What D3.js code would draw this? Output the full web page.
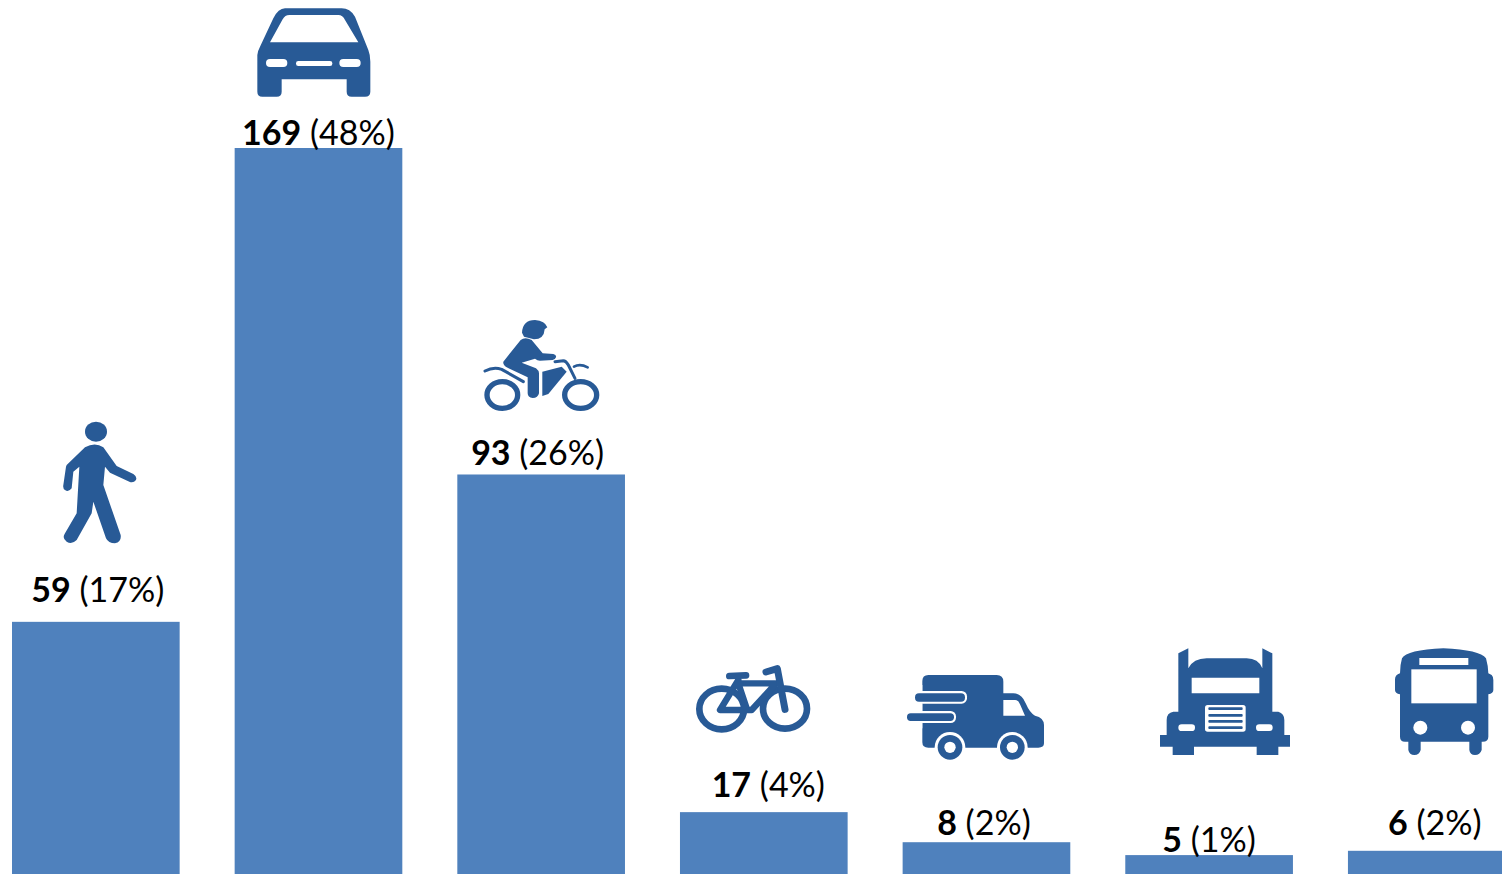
<!DOCTYPE html>
<html><head><meta charset="utf-8">
<script src="https://cdn.jsdelivr.net/npm/d3@7"></script>
<style>html,body{margin:0;padding:0;background:#fff;overflow:hidden}svg{display:block}</style>
</head><body><div id="chart"></div>
<script>
const modes = ["Pedestrian","Car","Motorcycle","Bicycle","Van","Truck","Bus"];
const counts = [59,169,93,17,8,5,6];
const shares = [17,48,26,4,2,1,2];
// Bar lengths as drawn in the picture (small bars are drawn a little shorter than their labels)
const drawnValues = [58.7,169,93,14.4,7.4,4.4,5.4];

const W=1502,H=874,BAR="#4F81BD",ICON="#285A96";
const svg=d3.select("#chart").append("svg").attr("width",W).attr("height",H);
const x=d3.scaleBand().domain(modes).range([12,1515.6]).paddingInner(55/222.65).paddingOuter(0).align(0);
const y=d3.scaleLinear().domain([0,169]).range([H,148]);

svg.selectAll("rect.bar").data(modes).join("rect").attr("class","bar")
  .attr("x",d=>x(d)).attr("width",x.bandwidth())
  .attr("y",(d,i)=>y(drawnValues[i])).attr("height",(d,i)=>H-y(drawnValues[i])).attr("fill",BAR);

// label layout: horizontal shift from bar centre, lift above bar top
const labelDx=[2,0,-3.5,4.5,-2.5,0,3];
const labelLift=[20,3,9,15,7,3,16];
const lab=svg.selectAll("text.lab").data(modes).join("text").attr("class","lab")
  .attr("x",(d,i)=>x(d)+x.bandwidth()/2+labelDx[i])
  .attr("y",(d,i)=>y(drawnValues[i])-labelLift[i])
  .attr("text-anchor","middle").attr("font-family","Lato, 'Open Sans', sans-serif")
  .attr("font-size",34).attr("fill","#000");
lab.append("tspan").attr("font-weight",700).text((d,i)=>counts[i]);
lab.append("tspan").attr("font-weight",400).text((d,i)=>` (${shares[i]}%)`);

// Icons are traced at 3x; each drawn into a group placed at its crop origin
function icon(ox,oy){return svg.append("g").attr("transform",`translate(${ox},${oy}) scale(${1/3})`);}
const solid=(g,d)=>g.append("path").attr("d",d).attr("fill",ICON);
const holes=(g,d)=>g.append("path").attr("d",d).attr("fill",ICON).attr("fill-rule","evenodd");
const line=(g,d,w)=>g.append("path").attr("d",d).attr("fill","none").attr("stroke",ICON).attr("stroke-width",w).attr("stroke-linecap","round").attr("stroke-linejoin","round");
const wrect=(g,a,b,c,e,r,f="#fff")=>g.append("rect").attr("x",a).attr("y",b).attr("width",c-a).attr("height",e-b).attr("rx",r||0).attr("fill",f);
const wcirc=(g,a,b,r,f="#fff")=>g.append("circle").attr("cx",a).attr("cy",b).attr("r",r).attr("fill",f);
const ring=(g,a,b,rx,ry,w)=>g.append("ellipse").attr("cx",a).attr("cy",b).attr("rx",rx).attr("ry",ry).attr("fill","none").attr("stroke",ICON).attr("stroke-width",w);

// pedestrian
{const g=icon(20,410);
 g.append("ellipse").attr("cx",228).attr("cy",65).attr("rx",33).attr("ry",30).attr("fill",ICON);
 solid(g,"M140,165 L195,112 Q225,95 250,112 L290,168 L340,192 Q352,200 348,210 Q340,220 328,215 L270,188 L255,170 L250,225 L302,375 Q305,395 285,400 Q265,400 258,385 L220,275 L215,310 L170,390 Q155,405 140,395 Q125,385 135,370 L170,310 L178,170 L160,185 L155,235 Q145,248 135,240 Q128,235 130,225 L138,170 Z");}
// car
{const g=icon(230,0);
 holes(g,"M165,25 L335,25 Q360,25 375,50 L415,150 Q421,165 421,185 L421,275 Q421,290 405,290 L365,290 Q350,290 350,275 L350,238 L155,238 L155,275 Q155,290 140,290 L97,290 Q82,290 82,275 L82,165 Q82,155 90,140 L130,55 Q145,25 165,25 Z M120,127 L385,127 L345,60 Q338,45 325,45 L178,45 Q165,45 158,58 Z");
 wrect(g,108,177,172,201,12);wrect(g,198,183,307,198,7);wrect(g,328,177,392,201,12);}
// motorcycle
{const g=icon(460,310);
 solid(g,"M186,68 Q188,30 225,30 Q255,32 262,52 L254,58 Q252,88 222,88 L192,80 Z");
 solid(g,"M130,155 L182,90 Q195,80 215,90 L248,130 L280,132 Q290,135 288,142 Q285,150 278,150 L240,152 Q232,152 225,146 L185,158 L228,175 Q237,182 237,190 L237,250 Q234,264 218,264 Q203,262 203,250 L203,202 L140,172 Q128,165 130,155 Z");
 solid(g,"M247,185 L305,170 L320,185 L265,252 L247,258 Z");
 line(g,"M285,155 L310,152 Q318,152 325,165 L345,205",9);
 line(g,"M342,170 Q360,160 383,172",8);
 line(g,"M75,183 Q100,170 125,178 L190,215",9);
 ring(g,127,255,46,40,16);ring(g,362,255,48,40,16);}
// bicycle
{const g=icon(680,650);
 ring(g,125,177,67,61,20);ring(g,315,176,66,60,20);
 line(g,"M175,90 L120,180 L215,180 L288,100 L175,100 L200,175",19);
 line(g,"M148,78 L198,76",20);
 line(g,"M258,66 L292,56 L315,178",21);}
// van
{const g=icon(895,665);
 solid(g,"M100,30 L305,30 Q325,30 325,50 L325,85 L355,85 Q380,85 392,115 Q405,145 420,152 Q447,158 447,180 L447,235 Q447,248 430,248 L100,248 Q82,248 82,232 L82,48 Q82,30 100,30 Z");
 g.append("path").attr("d","M325,105 L360,105 Q370,105 375,118 L390,152 L325,152 Z").attr("fill","#fff");
 wrect(g,54,78,216,116,16);wrect(g,30,138,183,174,16);
 wrect(g,60,85,210,110,12,ICON);wrect(g,36,145,177,168,11,ICON);
 wrect(g,50,116,82,138,0);wrect(g,30,174,82,190,0);wrect(g,54,60,82,78,0);
 for(const cx of [165,352]){wcirc(g,cx,247,46);wcirc(g,cx,247,37,ICON);wcirc(g,cx,247,17);}}
// truck
{const g=icon(1150,640);
 holes(g,"M85,40 L115,25 L115,85 Q130,55 170,55 L290,55 Q325,55 337,85 L337,25 L367,40 L367,215 L385,215 Q403,220 403,240 L403,285 L420,285 L420,320 L385,320 L385,345 L320,345 L320,320 L132,320 L132,345 L68,345 L68,320 L30,320 L30,285 L50,285 L50,240 Q50,218 70,215 L85,215 Z M125,113 L328,113 L328,160 L125,160 Z");
 wrect(g,165,195,287,275,8);
 for(const by of [202,222,240,259])wrect(g,175,by,278,by+8,3,ICON);
 wrect(g,85,253,135,273,10);wrect(g,318,253,368,273,10);}
// bus
{const g=icon(1380,640);
 solid(g,"M66,55 Q80,30 190,25 Q300,30 318,55 Q325,80 325,100 L335,105 Q340,110 340,120 L340,150 Q340,160 325,163 L325,290 Q325,305 308,305 L305,305 L305,330 Q300,345 285,345 Q270,345 268,330 L268,305 L122,305 L122,330 Q118,345 103,345 Q88,345 85,330 L85,305 L75,305 Q60,305 60,290 L60,163 Q45,160 45,150 L45,118 Q45,105 60,100 Q60,75 66,55 Z");
 wrect(g,118,54,265,75);wrect(g,94,88,290,190);wcirc(g,121,263,21);wcirc(g,264,263,21);}
</script></body></html>
